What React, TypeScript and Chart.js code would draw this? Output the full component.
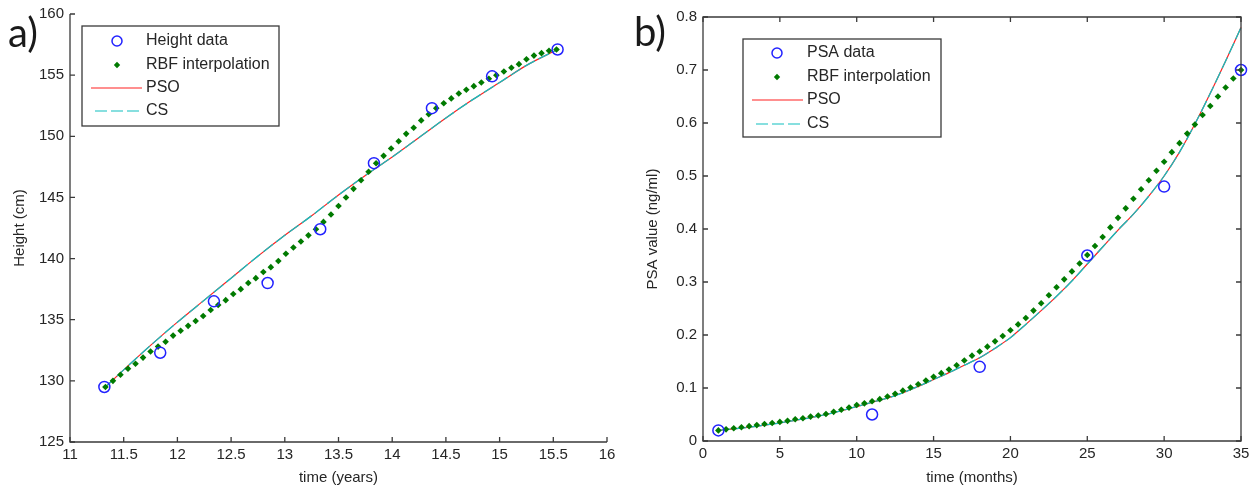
import React, { useEffect, useRef } from "react";
import { Chart, registerables } from "chart.js";

Chart.register(...registerables);

// ---------- Panel a) : height data ----------
const heightTime = [11.32, 11.84, 12.34, 12.84, 13.33, 13.83, 14.37, 14.93, 15.54];
const heightValue = [129.5, 132.3, 136.5, 138.0, 142.4, 147.8, 152.3, 154.9, 157.1];

const rbfHeightTime = [
  11.33, 11.40, 11.47, 11.54, 11.61, 11.68, 11.75, 11.82, 11.89, 11.96,
  12.03, 12.10, 12.17, 12.24, 12.31, 12.38, 12.45, 12.52, 12.59, 12.66,
  12.73, 12.80, 12.87, 12.94, 13.01, 13.08, 13.15, 13.22, 13.29, 13.36,
  13.43, 13.50, 13.57, 13.64, 13.71, 13.78, 13.85, 13.92, 13.99, 14.06,
  14.13, 14.20, 14.27, 14.34, 14.41, 14.48, 14.55, 14.62, 14.69, 14.76,
  14.83, 14.90, 14.97, 15.04, 15.11, 15.18, 15.25, 15.32, 15.39, 15.46,
  15.53,
];
const rbfHeightValue = [
  129.5, 130.0, 130.5, 131.0, 131.4, 131.9, 132.4, 132.8, 133.2, 133.7,
  134.1, 134.5, 134.9, 135.3, 135.8, 136.2, 136.6, 137.1, 137.5, 138.0,
  138.4, 138.9, 139.3, 139.8, 140.4, 140.9, 141.4, 141.9, 142.4, 143.0,
  143.6, 144.3, 145.0, 145.7, 146.4, 147.1, 147.8, 148.4, 149.0, 149.6,
  150.2, 150.7, 151.3, 151.8, 152.3, 152.7, 153.1, 153.5, 153.8, 154.1,
  154.4, 154.7, 155.0, 155.3, 155.6, 155.9, 156.3, 156.6, 156.8, 157.0,
  157.1,
];

const fitHeightTime = [11.33, 11.5, 11.75, 12.0, 12.25, 12.5, 12.75, 13.0, 13.25, 13.5, 13.75, 14.0, 14.25, 14.5, 14.75, 15.0, 15.25, 15.54];
const psoHeightValue = [129.5, 130.9, 132.9, 134.8, 136.6, 138.4, 140.2, 141.9, 143.5, 145.2, 146.8, 148.3, 149.9, 151.5, 153.0, 154.4, 155.8, 157.1];
const csHeightValue = [129.5, 130.9, 132.9, 134.8, 136.6, 138.4, 140.2, 141.9, 143.5, 145.2, 146.8, 148.3, 149.9, 151.5, 153.0, 154.4, 155.8, 157.1];

// ---------- Panel b) : PSA data ----------
const psaMonth = [1, 11, 18, 25, 30, 35];
const psaValue = [0.02, 0.05, 0.14, 0.35, 0.48, 0.70];

const rbfPsaMonth = [
  1.0, 1.5, 2.0, 2.5, 3.0, 3.5, 4.0, 4.5, 5.0, 5.5,
  6.0, 6.5, 7.0, 7.5, 8.0, 8.5, 9.0, 9.5, 10.0, 10.5,
  11.0, 11.5, 12.0, 12.5, 13.0, 13.5, 14.0, 14.5, 15.0, 15.5,
  16.0, 16.5, 17.0, 17.5, 18.0, 18.5, 19.0, 19.5, 20.0, 20.5,
  21.0, 21.5, 22.0, 22.5, 23.0, 23.5, 24.0, 24.5, 25.0, 25.5,
  26.0, 26.5, 27.0, 27.5, 28.0, 28.5, 29.0, 29.5, 30.0, 30.5,
  31.0, 31.5, 32.0, 32.5, 33.0, 33.5, 34.0, 34.5, 35.0,
];
const rbfPsaValue = [
  0.020, 0.022, 0.024, 0.026, 0.028, 0.030, 0.032, 0.034, 0.036, 0.038,
  0.041, 0.043, 0.046, 0.048, 0.051, 0.055, 0.059, 0.063, 0.068, 0.071,
  0.075, 0.079, 0.084, 0.089, 0.095, 0.101, 0.107, 0.114, 0.121, 0.128,
  0.135, 0.143, 0.152, 0.161, 0.169, 0.178, 0.188, 0.198, 0.209, 0.220,
  0.232, 0.246, 0.260, 0.275, 0.290, 0.305, 0.320, 0.335, 0.351, 0.368,
  0.385, 0.403, 0.421, 0.439, 0.457, 0.475, 0.492, 0.510, 0.527, 0.545,
  0.562, 0.580, 0.597, 0.615, 0.632, 0.650, 0.667, 0.684, 0.700,
];

const fitPsaMonth = [
  1, 2, 3, 4, 5, 6, 7, 8, 9, 10, 11, 12, 13, 14, 15, 16, 17, 18,
  19, 20, 21, 22, 23, 24, 25, 26, 27, 28, 29, 30, 31, 32, 33, 34, 35,
];
const psoPsaValue = [
  0.020, 0.023, 0.026, 0.030, 0.034, 0.039, 0.044, 0.050, 0.057, 0.065,
  0.073, 0.081, 0.091, 0.103, 0.116, 0.129, 0.143, 0.157, 0.175, 0.195,
  0.220, 0.246, 0.273, 0.302, 0.334, 0.366, 0.398, 0.428, 0.462, 0.500,
  0.545, 0.598, 0.656, 0.717, 0.780,
];
const csPsaValue = [
  0.020, 0.023, 0.026, 0.030, 0.034, 0.039, 0.044, 0.050, 0.057, 0.065,
  0.073, 0.081, 0.091, 0.103, 0.116, 0.129, 0.143, 0.157, 0.175, 0.195,
  0.220, 0.246, 0.273, 0.302, 0.334, 0.366, 0.398, 0.428, 0.462, 0.500,
  0.545, 0.598, 0.656, 0.717, 0.780,
];

const legendA = ["Height data", "RBF interpolation", "PSO", "CS"];
const legendB = ["PSA data", "RBF interpolation", "PSO", "CS"];

// ---------- styling ----------
const FONT = '"Liberation Sans", Arial, Helvetica, sans-serif';
const TEXT = "#262626";
const AXIS = "#3a3a3a";
const BLUE = "#2222ff";
const GREEN = "#007a00";
const RED = "#ff2020";
const CYAN = "#10c0c0";
const CS_DASH = [12, 4];

const zip = (xs: number[], ys: number[]) => xs.map((x, i) => ({ x, y: ys[i] }));

type LegendSpec = {
  box: [number, number, number, number];
  rowsY: number[];
  lineX: [number, number];
  markerX: number;
  textX: number;
  labels: string[];
};

function decorPlugin(opts: {
  box: boolean;
  legend: LegendSpec;
  panel: string;
  panelX: number;
  panelY: number;
}) {
  return {
    id: "decor" + opts.panel,
    afterDraw(chart: any) {
      const { ctx, chartArea } = chart;
      const { left, right, top, bottom } = chartArea;
      const xs = chart.scales.x;
      const ys = chart.scales.y;
      ctx.save();
      // axes
      ctx.strokeStyle = AXIS;
      ctx.lineWidth = 1.3;
      ctx.setLineDash([]);
      ctx.beginPath();
      if (opts.box) {
        ctx.rect(left, top, right - left, bottom - top);
      } else {
        ctx.moveTo(left, top);
        ctx.lineTo(left, bottom);
        ctx.lineTo(right, bottom);
      }
      ctx.stroke();
      const TL = 5;
      ctx.beginPath();
      xs.ticks.forEach((t: any) => {
        const px = xs.getPixelForValue(t.value);
        ctx.moveTo(px, bottom);
        ctx.lineTo(px, bottom - TL);
        if (opts.box) {
          ctx.moveTo(px, top);
          ctx.lineTo(px, top + TL);
        }
      });
      ys.ticks.forEach((t: any) => {
        const py = ys.getPixelForValue(t.value);
        ctx.moveTo(left, py);
        ctx.lineTo(left + TL, py);
        if (opts.box) {
          ctx.moveTo(right, py);
          ctx.lineTo(right - TL, py);
        }
      });
      ctx.stroke();

      // legend
      const L = opts.legend;
      const [bx, by, bw, bh] = L.box;
      ctx.fillStyle = "#ffffff";
      ctx.fillRect(bx, by, bw, bh);
      ctx.strokeStyle = AXIS;
      ctx.lineWidth = 1.3;
      ctx.strokeRect(bx, by, bw, bh);
      ctx.font = `16px ${FONT}`;
      ctx.fillStyle = TEXT;
      ctx.textBaseline = "middle";
      ctx.textAlign = "left";
      L.labels.forEach((lab, i) => ctx.fillText(lab, L.textX, L.rowsY[i]));
      // markers
      ctx.strokeStyle = BLUE;
      ctx.lineWidth = 1.5;
      ctx.beginPath();
      ctx.arc(L.markerX, L.rowsY[0], 5, 0, Math.PI * 2);
      ctx.stroke();
      ctx.fillStyle = GREEN;
      ctx.beginPath();
      const gy = L.rowsY[1];
      ctx.moveTo(L.markerX, gy - 3.2);
      ctx.lineTo(L.markerX + 3.2, gy);
      ctx.lineTo(L.markerX, gy + 3.2);
      ctx.lineTo(L.markerX - 3.2, gy);
      ctx.closePath();
      ctx.fill();
      ctx.strokeStyle = RED;
      ctx.lineWidth = 1.2;
      ctx.beginPath();
      ctx.moveTo(L.lineX[0], L.rowsY[2]);
      ctx.lineTo(L.lineX[1], L.rowsY[2]);
      ctx.stroke();
      ctx.strokeStyle = CYAN;
      ctx.setLineDash(CS_DASH);
      ctx.beginPath();
      ctx.moveTo(L.lineX[0] + 4, L.rowsY[3]);
      ctx.lineTo(L.lineX[1], L.rowsY[3]);
      ctx.stroke();
      ctx.setLineDash([]);

      // panel label
      ctx.font = `40px Lato, "Open Sans", sans-serif`;
      ctx.fillStyle = "#1a1a1a";
      ctx.textBaseline = "alphabetic";
      ctx.fillText(opts.panel, opts.panelX, opts.panelY);
      ctx.restore();
    },
  };
}

function datasets(
  dataPts: { x: number; y: number }[],
  rbfPts: { x: number; y: number }[],
  psoPts: { x: number; y: number }[],
  csPts: { x: number; y: number }[],
  labels: string[]
) {
  return [
    {
      label: labels[0],
      data: dataPts,
      showLine: false,
      pointStyle: "circle",
      pointRadius: 5.5,
      pointBorderWidth: 1.5,
      pointBorderColor: BLUE,
      pointBackgroundColor: "rgba(0,0,0,0)",
      clip: false,
    },
    {
      label: labels[1],
      data: rbfPts,
      showLine: false,
      pointStyle: "rectRot",
      pointRadius: 3.3,
      pointBorderWidth: 0,
      pointBackgroundColor: GREEN,
      pointBorderColor: GREEN,
      clip: false,
    },
    {
      label: labels[3],
      data: csPts,
      showLine: true,
      borderColor: CYAN,
      borderWidth: 1.3,
      borderDash: CS_DASH,
      pointRadius: 0,
      cubicInterpolationMode: "monotone",
      clip: false,
    },
    {
      label: labels[2],
      data: psoPts,
      showLine: true,
      borderColor: RED,
      borderWidth: 1.2,
      pointRadius: 0,
      cubicInterpolationMode: "monotone",
      clip: false,
    },
  ];
}

function scaleOpts(
  min: number,
  max: number,
  step: number,
  title: string,
  axis: "x" | "y",
  size: number,
  titlePad: any,
  tickPad: number
) {
  return {
    type: "linear",
    position: axis === "x" ? "bottom" : "left",
    min,
    max,
    grid: { display: false, drawTicks: false },
    border: { display: false },
    ticks: {
      stepSize: step,
      color: TEXT,
      font: { family: FONT, size: 15 },
      padding: tickPad,
      maxRotation: 0,
      autoSkip: false,
      includeBounds: true,
      callback: (v: number) => String(Math.round(v * 10) / 10),
    },
    title: {
      display: true,
      text: title,
      color: TEXT,
      font: { family: FONT, size: 15 },
      padding: titlePad,
    },
    afterFit: (s: any) => {
      if (axis === "x") s.height = size;
      else s.width = size;
      s.paddingLeft = 0;
      s.paddingRight = 0;
      s.paddingTop = 0;
      s.paddingBottom = 0;
    },
  };
}

export default function App() {
  const refA = useRef<HTMLCanvasElement | null>(null);
  const refB = useRef<HTMLCanvasElement | null>(null);

  useEffect(() => {
    const chartA = new Chart(refA.current as HTMLCanvasElement, {
      type: "scatter",
      data: {
        datasets: datasets(
          zip(heightTime, heightValue),
          zip(rbfHeightTime, rbfHeightValue),
          zip(fitHeightTime, psoHeightValue),
          zip(fitHeightTime, csHeightValue),
          legendA
        ) as any,
      },
      options: {
        responsive: false,
        animation: false,
        devicePixelRatio: 1,
        layout: { autoPadding: false, padding: { left: 0, right: 13, top: 14, bottom: 0 } },
        plugins: { legend: { display: false }, tooltip: { enabled: false } },
        scales: {
          x: scaleOpts(11, 16, 0.5, "time (years)", "x", 50, { top: 0, bottom: 5 }, 4),
          y: scaleOpts(125, 160, 5, "Height (cm)", "y", 70, { top: 11, bottom: 0 }, 6),
        } as any,
      },
      plugins: [
        decorPlugin({
          box: false,
          panel: "a)",
          panelX: 8,
          panelY: 47,
          legend: {
            box: [82, 26, 197, 100],
            rowsY: [41, 65, 88, 111],
            lineX: [91, 142],
            markerX: 117,
            textX: 146,
            labels: legendA,
          },
        }),
      ],
    });

    const chartB = new Chart(refB.current as HTMLCanvasElement, {
      type: "scatter",
      data: {
        datasets: datasets(
          zip(psaMonth, psaValue),
          zip(rbfPsaMonth, rbfPsaValue),
          zip(fitPsaMonth, psoPsaValue),
          zip(fitPsaMonth, csPsaValue),
          legendB
        ) as any,
      },
      options: {
        responsive: false,
        animation: false,
        devicePixelRatio: 1,
        layout: { autoPadding: false, padding: { left: 0, right: 14, top: 17, bottom: 0 } },
        plugins: { legend: { display: false }, tooltip: { enabled: false } },
        scales: {
          x: scaleOpts(0, 35, 5, "time (months)", "x", 51, { top: 0, bottom: 5 }, 4),
          y: scaleOpts(0, 0.8, 0.1, "PSA value (ng/ml)", "y", 83, { top: 24, bottom: 0 }, 6),
        } as any,
      },
      plugins: [
        decorPlugin({
          box: true,
          panel: "b)",
          panelX: 14,
          panelY: 46,
          legend: {
            box: [123, 39, 198, 98],
            rowsY: [53, 77, 100, 124],
            lineX: [132, 183],
            markerX: 157,
            textX: 187,
            labels: legendB,
          },
        }),
      ],
    });

    return () => {
      chartA.destroy();
      chartB.destroy();
    };
  }, []);

  return (
    <div
      style={{
        position: "fixed",
        left: 0,
        top: 0,
        width: 1255,
        height: 492,
        background: "#ffffff",
      }}
    >
      <canvas
        ref={refA}
        width={620}
        height={492}
        style={{ position: "absolute", left: 0, top: 0, width: 620, height: 492 }}
      />
      <canvas
        ref={refB}
        width={635}
        height={492}
        style={{ position: "absolute", left: 620, top: 0, width: 635, height: 492 }}
      />
    </div>
  );
}
